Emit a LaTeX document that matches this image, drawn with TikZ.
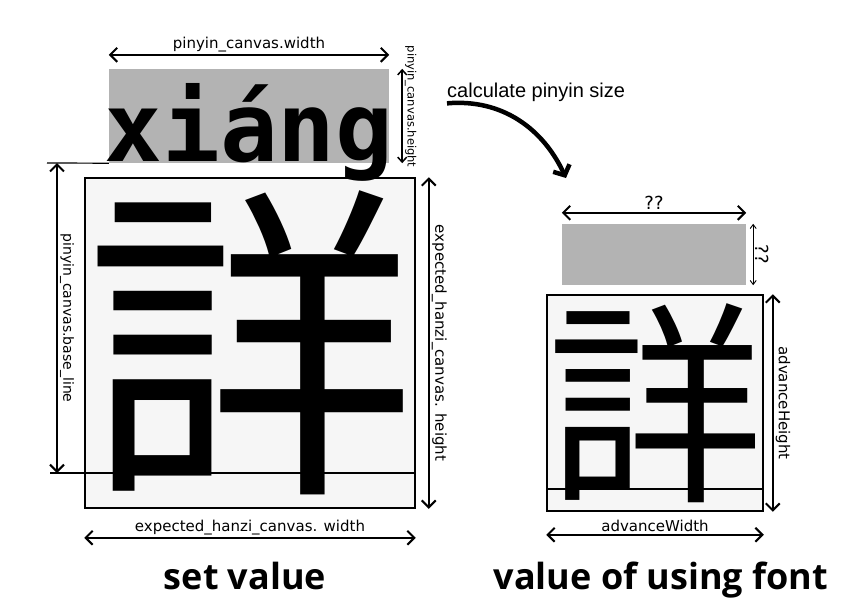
\documentclass[tikz,border=0pt]{standalone}
\usepackage{fontspec}
\setmainfont{DejaVu Sans}
\newfontfamily\cjk{Noto Sans CJK JP}
\newfontfamily\pyfont{DejaVu Sans Mono}
\newfontfamily\notefont{Liberation Sans}
\newfontfamily\titlefont{Open Sans}
\usetikzlibrary{arrows.meta}

\definecolor{pinyingray}{RGB}{179,179,179}
\definecolor{canvasfill}{RGB}{246,246,246}

\tikzset{
  dimarrow/.style={line width=2pt, {Straight Barb[length=7pt,width=14pt]}-{Straight Barb[length=7pt,width=14pt]}},
  smalldim/.style={line width=1.5pt, {Straight Barb[length=5pt,width=9pt]}-{Straight Barb[length=5pt,width=9pt]}},
  tinydim/.style={line width=0.9pt, {Straight Barb[length=4pt,width=6pt]}-{Straight Barb[length=4pt,width=6pt]}},
  dimlabel/.style={font=\fontsize{15}{15}\selectfont, inner sep=2pt, anchor=south},
  canvas/.style={draw, line width=1.5pt, fill=canvasfill, inner sep=0pt},
  pinyinrect/.style={fill=pinyingray, inner sep=0pt},
  baseline/.style={line width=1.2pt},
  bigarrow/.style={line width=4.5pt, -{Straight Barb[length=8pt,width=18pt]}},
  title/.style={font=\titlefont\bfseries\fontsize{36}{36}\selectfont, anchor=base, inner sep=0pt},
}

\begin{document}
\begin{tikzpicture}[x=1pt, y=-1pt]
\useasboundingbox (0,0) rectangle (860,608);

% set value
\node[pinyinrect, minimum width=280pt, minimum height=94pt] (pybox) at (249,116) {};
\node[canvas, minimum width=330pt, minimum height=330pt] (hzbox) at (250,343) {};
\coordinate (pybase) at (47,163);
\coordinate (hzbase) at (50,473);
\coordinate (basetop) at (57,163);
\coordinate (basebot) at (57,473);
\draw[baseline] (pybase) -- (pybox.south west);
\draw[baseline] (hzbase) -- (hzbase -| hzbox.east);
\node[font=\cjk\fontsize{330}{330}\selectfont, inner sep=0pt] (hzchar) at (hzbox.center) {詳};
\node[font=\pyfont\bfseries\fontsize{96}{96}\selectfont, inner sep=0pt, anchor=base] (pyword) at (249,161) {xiáng};

\draw[dimarrow] ([yshift=14pt]pybox.north west) -- node[dimlabel]{pinyin\_canvas.width} ([yshift=14pt]pybox.north east);
\draw[smalldim] ([xshift=13pt]pybox.north east) -- node[dimlabel, rotate=-90, pos=0.4, font=\fontsize{11.5}{11.5}\selectfont]{pinyin\_canvas.height} ([xshift=13pt]pybox.south east);
\draw[dimarrow] (basetop) -- node[dimlabel, rotate=-90, font=\fontsize{14}{14}\selectfont]{pinyin\_canvas.base\_line} (basebot);
\draw[dimarrow] ([xshift=13pt]hzbox.north east) -- node[dimlabel, rotate=-90]{expected\_hanzi\_canvas. height} ([xshift=13pt]hzbox.south east);
\draw[dimarrow] ([yshift=-29pt]hzbox.south west) -- node[dimlabel]{expected\_hanzi\_canvas. width} ([yshift=-29pt]hzbox.south east);
\node[title] (setvalue) at (245,589) {set value};

% calculate
\node[font=\notefont\fontsize{20}{20}\selectfont, anchor=base west, inner sep=0pt] (calc) at (447,97) {calculate pinyin size};
\coordinate (calcend) at (566,178);
\draw[bigarrow] ([yshift=-2pt]calc.south west) to[out=5, in=115] (calcend);

% value of using font
\node[pinyinrect, minimum width=184pt, minimum height=61pt] (qbox) at (654,254.5) {};
\node[canvas, minimum width=216pt, minimum height=216pt] (fontbox) at (655,403) {};
\coordinate (fontbase) at (547,489);
\draw[baseline] (fontbox.west |- fontbase) -- (fontbox.east |- fontbase);
\node[font=\cjk\fontsize{216}{216}\selectfont, inner sep=0pt] (fontchar) at (fontbox.center) {詳};

\draw[dimarrow] ([yshift=11pt]qbox.north west) -- node[dimlabel, font=\fontsize{18}{18}\selectfont]{??} ([yshift=11pt]qbox.north east);
\draw[tinydim] ([xshift=7pt]qbox.north east) -- node[dimlabel, rotate=-90, font=\fontsize{18}{18}\selectfont]{??} ([xshift=7pt]qbox.south east);
\draw[dimarrow] ([xshift=9pt]fontbox.north east) -- node[dimlabel, rotate=-90]{advanceHeight} ([xshift=9pt]fontbox.south east);
\draw[dimarrow] ([yshift=-23pt]fontbox.south west) -- node[dimlabel]{advanceWidth} ([yshift=-23pt]fontbox.south east);
\node[title] (usingfont) at (661,589) {value of using font};
\end{tikzpicture}
\end{document}
